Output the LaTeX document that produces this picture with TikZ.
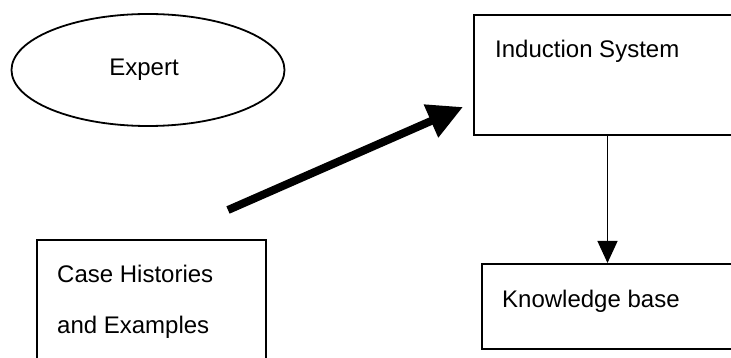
\documentclass[tikz,border=0pt]{standalone}
\usepackage{fontspec}
\setmainfont{Liberation Sans}
\usetikzlibrary{arrows.meta,shapes.geometric}
\tikzset{
  box/.style={draw,line width=2pt,anchor=north west,inner sep=0pt},
  txt/.style={anchor=base west,inner sep=0pt}
}
\begin{document}
\begin{tikzpicture}[x=1pt,y=-1pt,font=\fontsize{24}{28}\selectfont]
  \useasboundingbox (0,0) rectangle (731,358);
  \clip (0,0) rectangle (731,358);
  % source
  \node[draw,ellipse,line width=1.8pt,minimum width=273pt,minimum height=112pt,inner sep=0pt] (expert) at (148,70) {\hspace*{-8pt}Expert};
  % boxes
  \node[box,minimum width=267pt,minimum height=120pt] (induct) at (473,14) {};
  \node[box,minimum width=259pt,minimum height=85pt] (kbase) at (481,263) {};
  \node[box,minimum width=229pt,minimum height=140pt] (cases) at (36,239) {};
  \node[txt] (inducttxt) at (495,58) {Induction System};
  \node[txt] (kbasetxt) at (502,307) {Knowledge base};
  \node[txt] (casestxt) at (57,283) {Case Histories};
  \node[txt] (examplestxt) at (57,333) {and Examples};
  % arrows
  \coordinate (feedfrom) at (228,210);
  \coordinate (feedto) at (463,107);
  \draw[line width=8pt,-{Triangle[length=35pt,width=34pt]}] (feedfrom) -- (feedto);
  \draw[line width=1.2pt,-{Triangle[length=22pt,width=20pt]}] (induct.south) -- (induct.south |- kbase.north);
\end{tikzpicture}
\end{document}
